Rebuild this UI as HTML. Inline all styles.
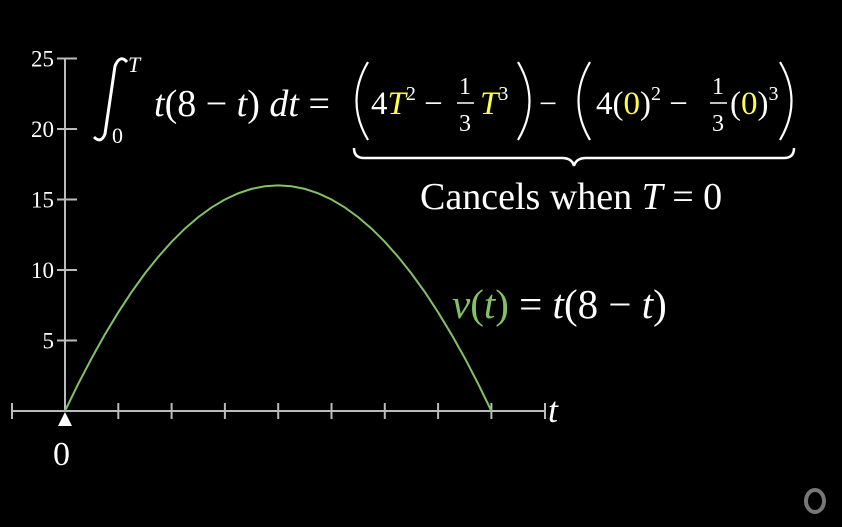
<!DOCTYPE html>
<html><head><meta charset="utf-8"><style>
html,body{margin:0;padding:0;background:#000;width:842px;height:527px;overflow:hidden}
svg{display:block}
text{font-family:"Liberation Serif",serif;fill:#fff}
.i{font-style:italic}
.y{fill:#ffff44}
.g{fill:#83c167}
.par{fill:none;stroke:#fff;stroke-width:2.2}
</style></head><body>
<svg id="chart" width="842" height="527" viewBox="0 0 842 527">
<g id="axes"></g>
<g id="curve"></g>
<g>
<path d="M127 62 q-7 -8 -12 4 L105 134 q-4 10 -11 3" fill="none" stroke="#fff" stroke-width="3"/>
<text x="128" y="72" font-size="22" class="i">T</text>
<text x="112" y="143" font-size="22">0</text>
<text x="154" y="116" font-size="38"><tspan class="i">t</tspan>(8 − <tspan class="i">t</tspan>) <tspan class="i">dt</tspan> =</text>
<path class="par" d="M368 62 Q345 101 368 140"/>
<text x="371" y="114" font-size="33">4<tspan class="i y">T</tspan><tspan font-size="20" dy="-14">2</tspan><tspan dy="14"> −</tspan></text>
<text x="459" y="94" font-size="24">1</text>
<line x1="457" y1="103" x2="474" y2="103" stroke="#fff" stroke-width="1.5"/>
<text x="459" y="131" font-size="24">3</text>
<text x="480" y="114" font-size="33"><tspan class="i y">T</tspan><tspan font-size="20" dy="-14">3</tspan></text>
<path class="par" d="M518 62 Q541 101 518 140"/>
<text x="539" y="114" font-size="32">−</text>
<path class="par" d="M590 62 Q567 101 590 140"/>
<text x="596" y="114" font-size="33">4(<tspan class="y">0</tspan>)<tspan font-size="20" dy="-14">2</tspan><tspan dy="14"> −</tspan></text>
<text x="712" y="94" font-size="24">1</text>
<line x1="710" y1="103" x2="727" y2="103" stroke="#fff" stroke-width="1.5"/>
<text x="712" y="131" font-size="24">3</text>
<text x="730" y="114" font-size="33">(<tspan class="y">0</tspan>)<tspan font-size="20" dy="-14">3</tspan></text>
<path class="par" d="M780 62 Q803 101 780 140"/>
<path d="M354 148 q0 10 10 10 H562 q10 0 12 8 q2 -8 12 -8 H784 q10 0 10 -10" fill="none" stroke="#fff" stroke-width="2.5"/>
<text x="420" y="209" font-size="38">Cancels when <tspan class="i">T</tspan> = 0</text>
<text x="452" y="318" font-size="41"><tspan class="g i">v</tspan><tspan class="g">(</tspan><tspan class="g i">t</tspan><tspan class="g">)</tspan> = <tspan class="i">t</tspan>(8 − <tspan class="i">t</tspan>)</text>
</g>
<polygon points="65,412 58,426 72,426" fill="#fff"/>
<text x="53" y="465" font-size="34">0</text>
<text x="548" y="422" font-size="36" class="i">t</text>
<ellipse cx="815" cy="501" rx="9" ry="11" fill="none" stroke="#777" stroke-width="4"/>
</svg>
<script>
const xTicks=[0,1,2,3,4,5,6,7,8,9];
const yTicks=[5,10,15,20,25];
const yTickLabels=["5","10","15","20","25"];
const tSamples=[0,0.25,0.5,0.75,1,1.25,1.5,1.75,2,2.25,2.5,2.75,3,3.25,3.5,3.75,4,4.25,4.5,4.75,5,5.25,5.5,5.75,6,6.25,6.5,6.75,7,7.25,7.5,7.75,8];
const vValues=[0,1.9375,3.75,5.4375,7,8.4375,9.75,10.9375,12,12.9375,13.75,14.4375,15,15.4375,15.75,15.9375,16,15.9375,15.75,15.4375,15,14.4375,13.75,12.9375,12,10.9375,9.75,8.4375,7,5.4375,3.75,1.9375,0];
const X=t=>65+t*53.3;
const Y=v=>411-v*14.1;
const NS="http://www.w3.org/2000/svg";
const axes=document.getElementById('axes');
function mk(tag,at,parent){const e=document.createElementNS(NS,tag);for(const k in at)e.setAttribute(k,at[k]);parent.appendChild(e);return e;}
let xl=mk('line',{x1:12,y1:411,x2:545,y2:411,stroke:'#bbb','stroke-width':2},axes);


let yl=mk('line',{x1:65,y1:411,x2:65,y2:Y(25),stroke:'#bbb','stroke-width':2},axes);


let le=mk('line',{x1:12,y1:403,x2:12,y2:419,stroke:'#bbb','stroke-width':2},axes);


let re=mk('line',{x1:545,y1:403,x2:545,y2:419,stroke:'#bbb','stroke-width':2},axes);


xTicks.forEach(t=>{if(t===0||t>8)return;const l=mk('line',{x1:X(t),y1:403,x2:X(t),y2:419,stroke:'#bbb','stroke-width':2},axes);

});
yTicks.forEach((v,i)=>{const l=mk('line',{x1:57,y1:Y(v),x2:77,y2:Y(v),stroke:'#bbb','stroke-width':2},axes);


const tx=mk('text',{x:54,y:Y(v)+8,'font-size':23,'text-anchor':'end'},axes);tx.textContent=yTickLabels[i];

});
const d=tSamples.map((t,i)=>(i?'L':'M')+X(t).toFixed(1)+' '+Y(vValues[i]).toFixed(1)).join(' ');
const p=mk('path',{d:d,fill:'none',stroke:'#83c167','stroke-width':2},document.getElementById('curve'));


</script>
</body></html>
